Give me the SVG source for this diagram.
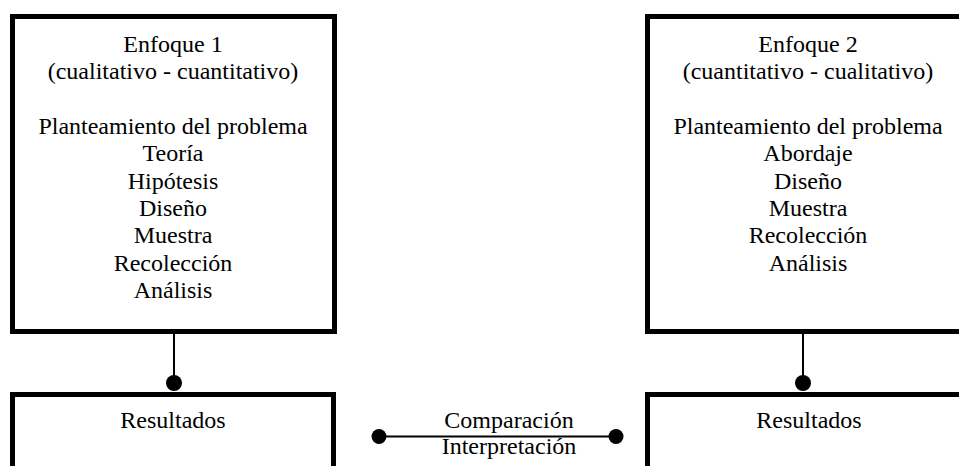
<svg xmlns="http://www.w3.org/2000/svg" width="959" height="466" viewBox="0 0 959 466">
<style>
.box{fill:#fff;stroke:#000;stroke-width:5}
.t{font-family:"Liberation Serif","Times New Roman",serif;font-size:24px;fill:#000;text-anchor:middle}
.c{stroke:#000;stroke-width:2;fill:none}
.dot{fill:#000}
</style>
<rect width="959" height="466" fill="#fff"/>
<g id="enfoque1">
<rect class="box" x="12.5" y="16.5" width="322" height="315"/>
<text class="t" x="173" y="52">Enfoque 1</text>
<text class="t" x="173" y="79.3">(cualitativo - cuantitativo)</text>
<text class="t" x="173" y="134">Planteamiento del problema</text>
<text class="t" x="173" y="161.3">Teoría</text>
<text class="t" x="173" y="188.6">Hipótesis</text>
<text class="t" x="173" y="215.9">Diseño</text>
<text class="t" x="173" y="243.2">Muestra</text>
<text class="t" x="173" y="270.5">Recolección</text>
<text class="t" x="173" y="297.8">Análisis</text>
</g>
<g id="enfoque2">
<rect class="box" x="647.5" y="16.5" width="330" height="315"/>
<text class="t" x="808" y="52">Enfoque 2</text>
<text class="t" x="808" y="79.3">(cuantitativo - cualitativo)</text>
<text class="t" x="808" y="134">Planteamiento del problema</text>
<text class="t" x="808" y="161.3">Abordaje</text>
<text class="t" x="808" y="188.6">Diseño</text>
<text class="t" x="808" y="215.9">Muestra</text>
<text class="t" x="808" y="243.2">Recolección</text>
<text class="t" x="808" y="270.5">Análisis</text>
</g>
<g id="resultados1">
<rect class="box" x="12.5" y="394.5" width="321" height="100"/>
<text class="t" x="173" y="428">Resultados</text>
</g>
<g id="resultados2">
<rect class="box" x="647.5" y="394.5" width="330" height="100"/>
<text class="t" x="809" y="428">Resultados</text>
</g>
<g id="connectors">
<line class="c" x1="174" y1="334" x2="174" y2="383"/>
<circle class="dot" cx="174" cy="383" r="8"/>
<line class="c" x1="803" y1="334" x2="803" y2="383"/>
<circle class="dot" cx="803" cy="383" r="8"/>
<line class="c" x1="379" y1="436.5" x2="616" y2="436.5"/>
<circle class="dot" cx="379" cy="436.5" r="7.5"/>
<circle class="dot" cx="616" cy="436.5" r="7.5"/>
<text class="t" x="509" y="428">Comparación</text>
<text class="t" x="509" y="454">Interpretación</text>
</g>
</svg>
